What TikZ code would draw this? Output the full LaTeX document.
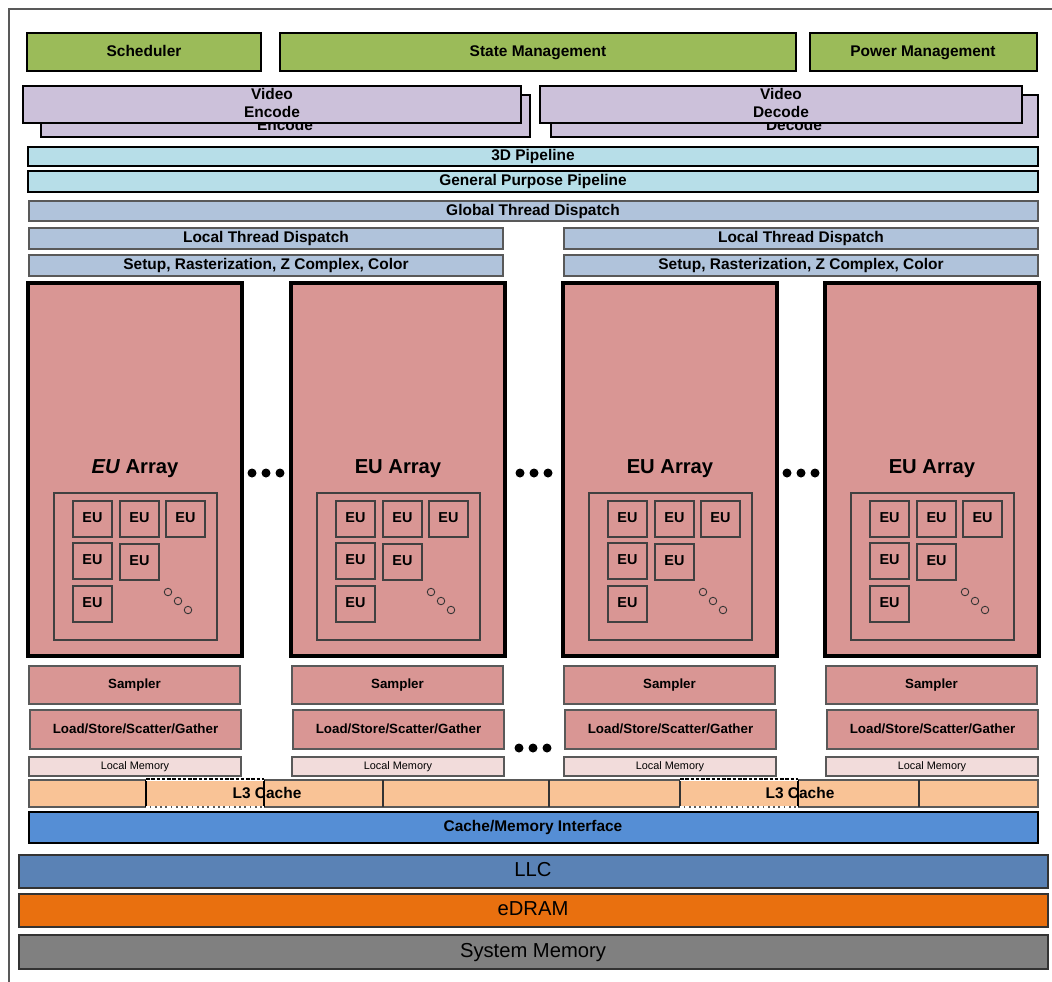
\documentclass[tikz,border=0pt]{standalone}
\usepackage{fontspec}
\setmainfont{Liberation Sans}
\usepackage{xcolor}
\definecolor{ctrlgreen}{HTML}{9BBB59}
\definecolor{media}{HTML}{CCC1DA}
\definecolor{pipe}{HTML}{B7DEE8}
\definecolor{dispatch}{HTML}{B0C3DB}
\definecolor{eupink}{HTML}{D99694}
\definecolor{lmem}{HTML}{F2DCDB}
\definecolor{lthree}{HTML}{F9C396}
\definecolor{cmiblue}{HTML}{558ED5}
\definecolor{llcblue}{HTML}{5A82B5}
\definecolor{edram}{HTML}{E9700F}
\definecolor{sysmem}{HTML}{808080}

\tikzset{
    outerline/.style={draw=black!65, line width=1.1pt},
    thickbox/.style={draw=black, line width=1.6pt},
    thinbox/.style={draw=black!65, line width=0.6pt},
    euframe/.style={draw=black, line width=2.6pt, fill=eupink},
    eubox/.style={draw=black!75, line width=0.6pt},
    lbl/.style={font=\fontsize{8.8}{10.4}\selectfont\bfseries, inner sep=0pt, text height=6.4pt, text depth=1.8pt},
    medialbl/.style={font=\fontsize{8.8}{10.2}\selectfont\bfseries, inner sep=0pt, align=center},
    smalllbl/.style={font=\fontsize{7.6}{9}\selectfont\bfseries, inner sep=0pt, text height=5.6pt, text depth=1.6pt},
    tinylbl/.style={font=\fontsize{6.2}{7}\selectfont, inner sep=0pt},
    biglbl/.style={font=\fontsize{11.5}{13}\selectfont, inner sep=0pt, text height=8.2pt, text depth=2.4pt},
}

\begin{document}
\begin{tikzpicture}[x=0.02cm, y=-0.02cm]
        \useasboundingbox (0,0) rectangle (1052,981);
        \draw[outerline] (9,985) -- (9,9) -- (1056,9);
        % control row
        \draw[thickbox, fill=ctrlgreen] (27,33) rectangle (261,71);
        \node[lbl] (sched) at (144,52) {Scheduler};
        \draw[thickbox, fill=ctrlgreen] (280,33) rectangle (796,71);
        \node[lbl] (statemgmt) at (538,52) {State Management};
        \draw[thickbox, fill=ctrlgreen] (810,33) rectangle (1037,71);
        \node[lbl] (powermgmt) at (923,52) {Power Management};
        % video encode / decode
        \draw[thickbox, fill=media] (41,95) rectangle (530,137);
        \node[medialbl] (encback) at (285,116) {Video\\Encode};
        \draw[thickbox, fill=media] (23,86) rectangle (521,123);
        \node[medialbl] (enc) at (272,103) {Video\\Encode};
        \draw[thickbox, fill=media] (551,95) rectangle (1038,137);
        \node[medialbl] (decback) at (794,116) {Video\\Decode};
        \draw[thickbox, fill=media] (540,86) rectangle (1022,123);
        \node[medialbl] (dec) at (781,103) {Video\\Decode};
        % pipelines
        \draw[thickbox, fill=pipe] (28,147) rectangle (1038,166);
        \node[lbl] (pipe3d) at (533,156.5) {3D Pipeline};
        \draw[thickbox, fill=pipe] (28,171) rectangle (1038,192);
        \node[lbl] (gppipe) at (533,181.5) {General Purpose Pipeline};
        \draw[thinbox, fill=dispatch] (29,201) rectangle (1038,221);
        \node[lbl] (gtd) at (533,211) {Global Thread Dispatch};
        \foreach \l/\r [count=\i] in {29/503, 564/1038} {
            \draw[thinbox, fill=dispatch] (\l,228) rectangle (\r,249);
            \node[lbl] (ltd\i) at ({(\l+\r)/2},238.5) {Local Thread Dispatch};
            \draw[thinbox, fill=dispatch] (\l,255) rectangle (\r,276);
            \node[lbl] (setup\i) at ({(\l+\r)/2},265.5) {Setup, Rasterization, Z Complex, Color};
        }
        % EU arrays and their slices
        \foreach \l/\eu [count=\i] in {28/\textit{EU}, 291/EU, 563/EU, 825/EU} {
            \draw[euframe] (\l,283) rectangle (\l+214,656);
            \node[font=\fontsize{11.5}{13}\selectfont\bfseries] (array\i) at (\l+107,469) {\eu{} Array};
            \draw[eubox] (\l+26,493) rectangle (\l+189,640);
            \foreach \ex/\ey [count=\j] in {45/501, 92/501, 138/501, 45/543, 92/544, 45/586} {
                \draw[eubox] (\l+\ex,\ey) rectangle (\l+\ex+39,\ey+36);
                \node[smalllbl, font=\fontsize{8.2}{9}\selectfont\bfseries] (eu\i-\j) at (\l+\ex+19.5,\ey+18) {EU};
            }
            \foreach \k in {0,1,2}
                \draw[black!80, line width=0.5pt] (\l+140+10*\k,592+9*\k) circle[radius=0.075cm];
            \draw[thinbox, fill=eupink] (\l+1,666) rectangle (\l+212,704);
            \node[smalllbl] (samp\i) at (\l+106.5,685) {Sampler};
            \draw[thinbox, fill=eupink] (\l+2,710) rectangle (\l+213,749);
            \node[smalllbl] (lssg\i) at (\l+107.5,729.5) {Load/Store/Scatter/Gather};
            \draw[thinbox, fill=lmem] (\l+1,757) rectangle (\l+213,776);
            \node[tinylbl] (lmem\i) at (\l+107,766.5) {Local Memory};
        }
        \foreach \c in {266,534,801}
            \foreach \d in {-14,0,14}
                \fill (\c+\d,473) circle[radius=0.09cm];
        \foreach \d in {-14,0,14}
            \fill (533+\d,748) circle[radius=0.09cm];
        % L3 cache
        \draw[thinbox, fill=lthree] (29,780) rectangle (1038,807);
        \node[lbl] (l3a) at (267,794) {L3 Cache};
        \node[lbl] (l3b) at (800,794) {L3 Cache};
        \foreach \x in {383,549,680,919}
            \draw[black!80, line width=0.6pt] (\x,780) -- (\x,807);
        \foreach \x in {146,264,798}
            \draw[black, line width=1pt] (\x,780) -- (\x,807);
        \foreach \a/\b in {146/264, 680/798} {
            \draw[white, line width=1pt] (\a,780) -- (\b,780);
            \draw[black, line width=0.8pt, dash pattern=on 2pt off 1pt] (\a,779) -- (\b,779);
            \draw[white, line width=0.8pt, dash pattern=on 2pt off 1pt] (\a,807) -- (\b,807);
        }
        \draw[thickbox, fill=cmiblue] (29,812) rectangle (1038,843);
        \node[lbl] (cmi) at (533,827.5) {Cache/Memory Interface};
        % memory hierarchy
        \draw[thinbox, draw=black!80, fill=llcblue] (19,855) rectangle (1048,888);
        \node[biglbl] (llc) at (533,871.5) {LLC};
        \draw[thinbox, draw=black!80, fill=edram] (19,894) rectangle (1048,927);
        \node[biglbl] (edram) at (533,910.5) {eDRAM};
        \draw[thinbox, draw=black!80, fill=sysmem] (19,935) rectangle (1048,969);
        \node[biglbl] (sysmem) at (533,952) {System Memory};
    \end{tikzpicture}
\end{document}
